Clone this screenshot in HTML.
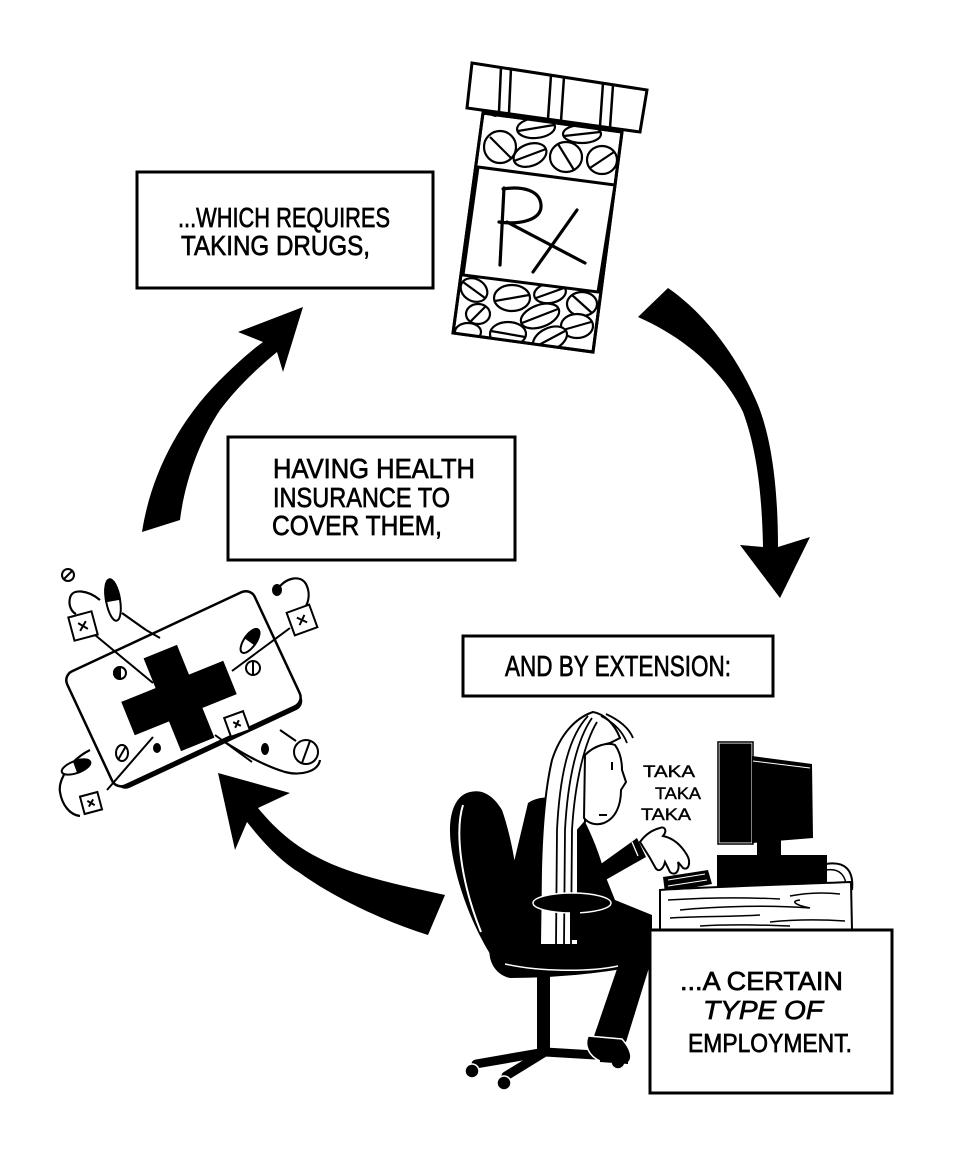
<!DOCTYPE html>
<html><head><meta charset="utf-8"><style>
html,body{margin:0;padding:0;background:#fff;}
svg{display:block;}
text{font-family:"Liberation Sans",sans-serif;fill:#000;stroke:#000;stroke-width:0.7;}
</style></head><body>
<svg width="960" height="1160" viewBox="0 0 960 1160" xmlns="http://www.w3.org/2000/svg">
<rect width="960" height="1160" fill="#fff"/>

<!-- Box 1 -->
<rect x="137" y="172" width="296" height="116" fill="#fff" stroke="#000" stroke-width="3"/>
<text x="178" y="227" font-size="28" textLength="212" lengthAdjust="spacingAndGlyphs">...WHICH REQUIRES</text>
<text x="181" y="255" font-size="28" textLength="189" lengthAdjust="spacingAndGlyphs">TAKING DRUGS,</text>

<!-- Box 2 -->
<rect x="228" y="437" width="287" height="123" fill="#fff" stroke="#000" stroke-width="3"/>
<text x="273" y="478" font-size="28" textLength="202" lengthAdjust="spacingAndGlyphs">HAVING HEALTH</text>
<text x="273" y="507" font-size="28" textLength="177" lengthAdjust="spacingAndGlyphs">INSURANCE TO</text>
<text x="272" y="535" font-size="28" textLength="170" lengthAdjust="spacingAndGlyphs">COVER THEM,</text>

<!-- Box 3 -->
<rect x="463" y="636" width="310" height="60" fill="#fff" stroke="#000" stroke-width="3"/>
<text x="505" y="676" font-size="29" textLength="226" lengthAdjust="spacingAndGlyphs">AND BY EXTENSION:</text>

<!-- Arrows -->
<path d="M142,532 C150,480 175,425 220,380 C238,362 252,350 263,342 L238,332 L303,307 L283,372 L277,352 C255,370 235,390 220,410 C200,440 185,480 180,520 Z" fill="#000"/>
<path d="M668,288 C700,310 735,350 758,405 C772,440 778,490 778,547 L810,537 L780,598 L740,545 L763,547 C762,495 757,450 743,412 C725,375 690,340 638,317 Z" fill="#000"/>
<path d="M445,895 C400,885 350,875 317,857 C290,843 272,825 258,808 L290,793 L218,773 L235,850 L247,822 C265,845 282,862 300,873 C330,895 380,920 428,935 Z" fill="#000"/>

<!-- Pill bottle -->
<defs>
<clipPath id="bodyclip"><polygon points="483,113 622,132 593,352 453,333"/></clipPath>
</defs>
<polygon points="483,113 622,132 593,352 453,333" fill="#fff" stroke="#000" stroke-width="3"/>
<g clip-path="url(#bodyclip)" fill="#fff" stroke="#000" stroke-width="2.2">
  <ellipse cx="500" cy="147" rx="16" ry="16"/><line x1="490" y1="137" x2="511" y2="158"/>
  <ellipse cx="536" cy="128" rx="19" ry="10" transform="rotate(-5 536 128)"/><line x1="518" y1="131" x2="554" y2="125"/>
  <ellipse cx="582" cy="134" rx="19" ry="9"/><line x1="564" y1="136" x2="600" y2="132"/>
  <ellipse cx="530" cy="155" rx="17" ry="11" transform="rotate(-20 530 155)"/><line x1="514" y1="161" x2="546" y2="149"/>
  <ellipse cx="566" cy="157" rx="16" ry="15"/><line x1="558" y1="144" x2="574" y2="170"/>
  <ellipse cx="602" cy="160" rx="15" ry="14"/><line x1="590" y1="168" x2="614" y2="152"/>
  <ellipse cx="474" cy="290" rx="14" ry="11" transform="rotate(30 474 290)"/><line x1="463" y1="282" x2="485" y2="298"/>
  <ellipse cx="512" cy="298" rx="18" ry="13"/><line x1="495" y1="301" x2="529" y2="295"/>
  <ellipse cx="550" cy="293" rx="16" ry="10" transform="rotate(-10 550 293)"/><line x1="536" y1="298" x2="564" y2="288"/>
  <ellipse cx="582" cy="304" rx="15" ry="12"/><line x1="572" y1="295" x2="592" y2="313"/>
  <ellipse cx="478" cy="314" rx="12" ry="10"/><line x1="470" y1="322" x2="486" y2="306"/>
  <ellipse cx="540" cy="316" rx="20" ry="11" transform="rotate(-20 540 316)"/><line x1="522" y1="323" x2="558" y2="309"/>
  <ellipse cx="577" cy="326" rx="16" ry="12"/><line x1="563" y1="330" x2="591" y2="322"/>
  <ellipse cx="468" cy="332" rx="13" ry="9"/>
  <ellipse cx="508" cy="334" rx="18" ry="12"/><line x1="491" y1="331" x2="525" y2="337"/>
  <ellipse cx="550" cy="339" rx="18" ry="11" transform="rotate(-25 550 339)"/><line x1="535" y1="347" x2="565" y2="331"/>
</g>
<polygon points="483,113 622,132 593,352 453,333" fill="none" stroke="#000" stroke-width="3"/>
<polygon points="478,167 615,185 598,292 463,275" fill="#fff" stroke="#000" stroke-width="3"/>
<path d="M483,113 L520,112 L495,117 Z" fill="#000"/>
<polygon points="472,63 647,90 640,132 467,108" fill="#fff" stroke="#000" stroke-width="3"/>
<g stroke="#000" stroke-width="2.5">
  <line x1="501" y1="67" x2="499" y2="112"/><line x1="511" y1="68" x2="509" y2="113"/>
  <line x1="551" y1="75" x2="548" y2="119"/><line x1="564" y1="77" x2="561" y2="121"/>
  <line x1="603" y1="83" x2="600" y2="126"/><line x1="613" y1="85" x2="610" y2="128"/>
</g>
<g fill="none" stroke="#000" stroke-width="3.2" stroke-linecap="round">
  <path d="M504,188 L500,265"/>
  <path d="M503,189 C522,186 540,190 541,205 C542,220 520,225 499,222"/>
  <path d="M507,222 L585,263"/>
  <path d="M577,210 L533,272"/>
</g>

<!-- Insurance card -->
<g fill="none" stroke="#000" stroke-width="2.2">
  <path d="M100,600 C88,590 72,588 70,598 C68,606 72,612 76,614"/>
  <path d="M122,613 L146,630"/>
  <path d="M277,590 C285,578 300,574 306,584 C310,592 309,600 306,606"/>
  <path d="M217,737 C240,752 262,765 285,772 C300,776 318,772 320,760"/>
  <path d="M90,750 C70,760 58,780 60,792 C62,805 70,815 80,816"/>
</g>
<g transform="translate(183 689) rotate(-25)">
  <rect x="-100" y="-59" width="204" height="126" rx="10" fill="#000"/>
  <rect x="-103" y="-63" width="207" height="126" rx="10" fill="#fff" stroke="#000" stroke-width="2.5"/>
</g>
<g fill="none" stroke="#000" stroke-width="2">
  <path d="M95,635 L153,683"/>
  <path d="M290,628 L232,671"/>
  <path d="M153,737 L107,790"/>
  <path d="M215,735 L252,762"/>
  <path d="M280,730 L296,741"/>
  <path d="M146,630 L160,638"/>
</g>
<g transform="translate(179 698) rotate(-22)" fill="#000">
  <rect x="-18" y="-50" width="36" height="100"/>
  <rect x="-55" y="-18" width="110" height="36"/>
</g>
<!-- pills around card -->
<g stroke="#000" stroke-width="2" fill="#fff">
  <circle cx="68" cy="575" r="6"/><line x1="64" y1="579" x2="72" y2="571"/>
  <g transform="translate(113 600) rotate(-10)">
    <ellipse cx="0" cy="0" rx="7" ry="21"/>
    <path d="M-7,0 A7 21 0 0 1 7,0 Z" fill="#000"/>
  </g>
  <g transform="translate(83 626) rotate(-15)">
    <rect x="-12" y="-12" width="24" height="24"/>
    <path d="M-4,-4 L4,4 M4,-4 L-4,4" fill="none"/>
  </g>
  <ellipse cx="277" cy="590" rx="4" ry="5" fill="#000"/>
  <g transform="translate(302 620) rotate(-20)">
    <rect x="-12" y="-12" width="24" height="24"/>
    <path d="M-4,-4 L4,4 M4,-4 L-4,4" fill="none"/>
  </g>
  <g transform="translate(250 641) rotate(35)">
    <ellipse cx="0" cy="0" rx="6" ry="14"/>
    <path d="M-6,0 A6 14 0 0 1 6,0 Z" fill="#000"/>
  </g>
  <circle cx="253" cy="668" r="7"/><line x1="253" y1="661" x2="253" y2="675"/>
  <circle cx="120" cy="673" r="6"/><path d="M120,667 A6 6 0 0 0 120,679 Z" fill="#000"/>
  <g transform="translate(237 724) rotate(-20)">
    <rect x="-10" y="-10" width="20" height="20"/>
    <path d="M-3,-3 L3,3 M3,-3 L-3,3" fill="none"/>
  </g>
  <ellipse cx="265" cy="749" rx="3" ry="5" fill="#000"/>
  <circle cx="306" cy="752" r="12"/><line x1="302" y1="763" x2="310" y2="741"/>
  <ellipse cx="122" cy="753" rx="6" ry="8"/><line x1="118" y1="760" x2="126" y2="746"/>
  <ellipse cx="157" cy="748" rx="3" ry="4" fill="#000"/>
  <g transform="translate(76 767) rotate(-20)">
    <ellipse cx="0" cy="0" rx="15" ry="6"/>
    <path d="M0,-6 A15 6 0 0 1 0,6 Z" fill="#000"/>
  </g>
  <g transform="translate(91 803) rotate(-15)">
    <rect x="-9" y="-9" width="18" height="18"/>
    <path d="M-3,-3 L3,3 M3,-3 L-3,3" fill="none"/>
  </g>
</g>

<!-- Person & chair -->
<path d="M470,792 C455,795 447,815 451,845 C456,885 474,930 494,960 L505,975 L521,958 C523,910 516,850 502,810 C493,795 482,789 470,792 Z" fill="#000"/>
<path d="M463,805 C455,830 460,880 481,932" fill="none" stroke="#fff" stroke-width="2"/>
<path d="M490,945 C520,938 600,933 652,935 L652,962 C620,972 560,978 510,978 C495,975 487,960 490,945 Z" fill="#000"/>
<path d="M528,803 C545,792 568,798 583,818 C592,835 600,855 605,875 L615,900 L652,915 L652,958 L626,1042 L592,1042 L618,966 L520,960 L505,900 Z" fill="#000"/>
<path d="M505,964 C540,972 590,972 618,966" fill="none" stroke="#fff" stroke-width="1.5"/>
<!-- hair -->
<path d="M593,712 C575,718 560,735 552,760 C545,790 542,830 541,870 L540,945 L578,945 L578,830 L585,822 L585,760 C590,750 600,745 610,743 L620,738 C615,725 605,714 593,712 Z" fill="#fff" stroke="#000" stroke-width="2"/>
<g fill="none" stroke="#000" stroke-width="1.8">
  <path d="M588,716 C570,735 560,770 557,830 L556,945"/>
  <path d="M592,718 C578,738 568,775 565,830 L564,945"/>
  <path d="M597,722 C585,742 575,780 572,830 L571,945"/>
  <path d="M601,716 C613,722 622,730 627,743"/>
  <path d="M606,714 C619,720 629,728 633,738"/>
</g>
<!-- face -->
<path d="M585,755 C595,745 608,742 615,745 C620,752 622,760 622,770 L626,782 L621,790 C621,805 616,818 604,823 C595,826 588,823 584,818 Z" fill="#fff" stroke="#000" stroke-width="2"/>
<line x1="612" y1="762" x2="612" y2="770" stroke="#000" stroke-width="2"/>
<line x1="599" y1="815" x2="607" y2="815" stroke="#000" stroke-width="2"/>
<!-- arm -->
<path d="M583,830 C590,845 594,858 598,866 L637,838 L646,857 L602,882 C592,882 585,870 580,858 Z" fill="#000"/>
<path d="M632,842 L638,856" stroke="#fff" stroke-width="1.3"/>
<!-- hand -->
<path d="M640,842 C645,835 652,830 660,828 C664,826 668,830 663,836 C673,838 681,845 687,855 C691,862 689,871 683,868 L678,862 C680,870 676,877 670,872 L665,862 C663,870 658,873 655,867 L650,858 Z" fill="#fff" stroke="#000" stroke-width="2"/>
<!-- armrest -->
<ellipse cx="572" cy="903" rx="39" ry="10" fill="#000" stroke="#fff" stroke-width="1.5"/>
<rect x="570" y="912" width="10" height="28" fill="#000"/>
<!-- stem & base -->
<rect x="537" y="975" width="13" height="78" fill="#000"/>
<g stroke="#000" stroke-width="9" stroke-linecap="round" fill="none">
  <path d="M545,1052 L476,1064"/>
  <path d="M545,1052 L506,1076"/>
  <path d="M545,1052 L612,1056"/>
</g>
<g fill="#000" stroke="#fff" stroke-width="1.5">
  <circle cx="472" cy="1071" r="7"/>
  <circle cx="504" cy="1083" r="7"/>
  <circle cx="618" cy="1062" r="7"/>
</g>
<path d="M588,1036 L622,1039 C630,1048 634,1058 628,1063 L600,1061 C589,1056 584,1046 588,1036 Z" fill="#000" stroke="#fff" stroke-width="1.5"/>
<path d="M600,1061 L628,1063" stroke="#000" stroke-width="2"/>

<!-- Computer -->
<rect x="719" y="743" width="33" height="100" fill="#000" stroke="#fff" stroke-width="1"/>
<rect x="718" y="742" width="35" height="102" fill="none" stroke="#000" stroke-width="1.5"/>
<polygon points="752,756 812,764 813,838 752,843" fill="#000"/>
<path d="M753,761 L810,768" stroke="#fff" stroke-width="1"/>
<rect x="757" y="840" width="24" height="16" fill="#000"/>
<rect x="717" y="855" width="110" height="34" fill="#000"/>
<path d="M826,864 C845,861 854,870 852,890" fill="none" stroke="#000" stroke-width="2"/>
<path d="M826,870 C840,868 847,876 846,890" fill="none" stroke="#000" stroke-width="1.5"/>
<polygon points="663,877 708,870 712,884 665,893" fill="#000"/>
<path d="M668,880 L705,874 M668,886 L707,880" stroke="#fff" stroke-width="1"/>
<!-- desk -->
<path d="M660,890 C700,887 800,884 851,882 L852,930 L660,930 Z" fill="#fff" stroke="#000" stroke-width="2"/>
<g fill="none" stroke="#000" stroke-width="1.5">
  <path d="M668,900 C700,898 740,897 780,899"/>
  <path d="M790,896 C805,893 822,892 840,894"/>
  <path d="M680,910 C720,906 770,905 810,908 C795,905 790,901 800,900"/>
  <path d="M670,918 C700,916 730,917 760,915"/>
  <path d="M770,922 C790,920 815,919 845,921"/>
  <path d="M700,926 C730,924 760,925 790,926"/>
</g>

<!-- TAKA -->
<text x="643" y="777" font-size="17" textLength="52" lengthAdjust="spacingAndGlyphs" style="stroke-width:0.4">TAKA</text>
<text x="655" y="799" font-size="17" textLength="46" lengthAdjust="spacingAndGlyphs" style="stroke-width:0.4">TAKA</text>
<text x="641" y="820" font-size="17" textLength="50" lengthAdjust="spacingAndGlyphs" style="stroke-width:0.4">TAKA</text>

<!-- Box 4 -->
<rect x="650" y="930" width="242" height="163" fill="#fff" stroke="#000" stroke-width="3"/>
<text x="680" y="990" font-size="26" textLength="163" lengthAdjust="spacingAndGlyphs">...A CERTAIN</text>
<text x="703" y="1019" font-size="26" font-style="italic" textLength="120" lengthAdjust="spacingAndGlyphs">TYPE OF</text>
<text x="688" y="1052" font-size="26" textLength="164" lengthAdjust="spacingAndGlyphs">EMPLOYMENT.</text>
</svg>
</body></html>
